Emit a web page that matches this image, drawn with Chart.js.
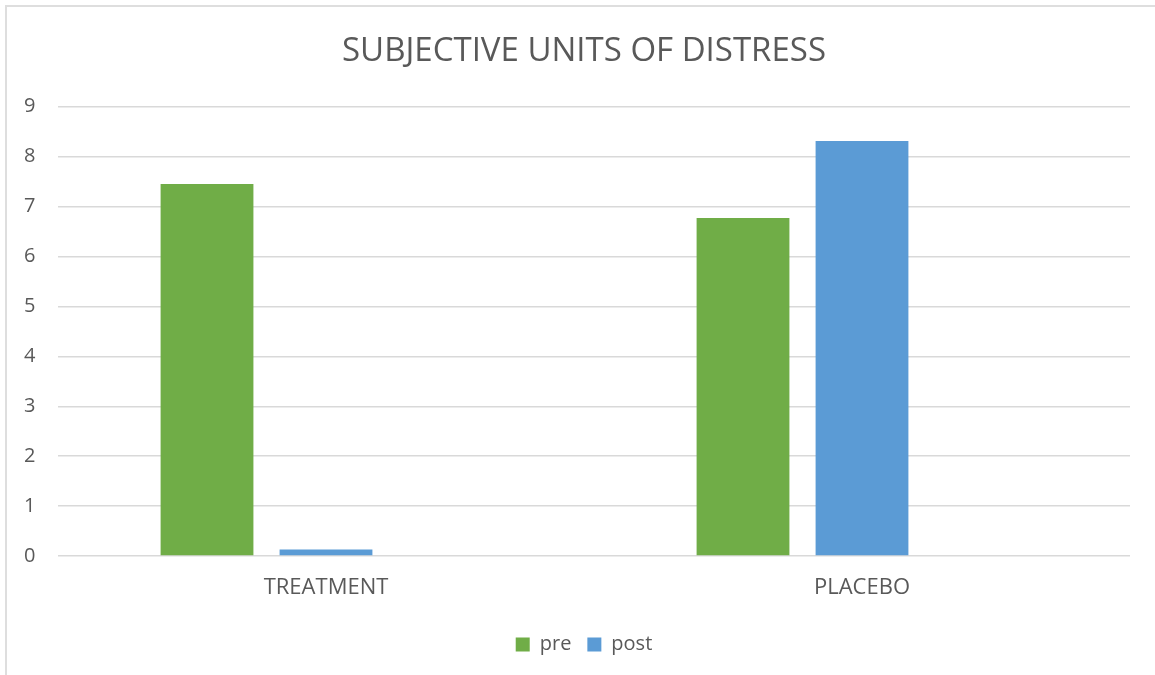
<!DOCTYPE html>
<html>
<head>
<meta charset="utf-8">
<script src="https://cdn.jsdelivr.net/npm/chart.js@4.4.1/dist/chart.umd.min.js"></script>
<style>
  html, body { margin: 0; padding: 0; background: #fff; overflow: hidden; }
  #frame { position: absolute; left: 5px; top: 5px; width: 1250px; height: 760px;
           border: 2px solid #dedede; box-sizing: border-box; }
  #wrap { position: absolute; left: 0; top: 0; width: 1155px; height: 675px; }
</style>
</head>
<body>
<div id="frame"></div>
<div id="wrap"><canvas id="chart" width="1155" height="675"></canvas></div>
<script>
// Subjective units of distress, before and after, per group
const categories = ['TREATMENT', 'PLACEBO'];
const preValues = [7.45, 6.77];
const postValues = [0.13, 8.31];
// the workbook chart keeps a third, empty series slot in each group
const emptyValues = [null, null];
const seriesNames = ['pre', 'post', ''];
const yMin = 0, yMax = 9, yStep = 1;

const TEXT = '#595959';
const GRID = '#d9d9d9';
const FONT = "'Open Sans', 'Liberation Sans', sans-serif";

new Chart(document.getElementById('chart'), {
  type: 'bar',
  data: {
    labels: categories,
    datasets: [
      { label: seriesNames[0], data: preValues, backgroundColor: '#70ad47' },
      { label: seriesNames[1], data: postValues, backgroundColor: '#5b9bd5' },
      { label: seriesNames[2], data: emptyValues, backgroundColor: 'rgba(0,0,0,0)' }
    ]
  },
  options: {
    responsive: false,
    devicePixelRatio: 1,
    animation: false,
    datasets: { bar: { categoryPercentage: 0.666, barPercentage: 0.78 } },
    layout: { padding: { left: 38, right: 25, top: 0, bottom: 10.5 } },
    plugins: {
      title: {
        display: true,
        text: 'SUBJECTIVE UNITS OF DISTRESS',
        color: TEXT,
        font: { family: FONT, size: 33, weight: 'normal' },
        padding: { top: 32, bottom: 35 }
      },
      legend: {
        position: 'bottom',
        labels: {
          color: TEXT,
          font: { family: FONT, size: 20 },
          boxWidth: 14,
          boxHeight: 14,
          padding: 16,
          filter: (item) => item.text !== ''
        }
      },
      tooltip: { enabled: false }
    },
    scales: {
      x: {
        grid: { display: false, drawTicks: false },
        border: { display: false },
        ticks: { color: TEXT, font: { family: FONT, size: 22 }, padding: 18 }
      },
      y: {
        min: yMin,
        max: yMax,
        grid: { color: GRID, lineWidth: 1.5, drawTicks: false },
        border: { display: false },
        // mirrored labels are not clipped to the narrow axis box; a negative
        // padding moves them back out to the left of the grid
        ticks: { stepSize: yStep, color: TEXT, font: { family: FONT, size: 20 },
                 mirror: true, padding: -34 },
        afterFit: (scale) => { scale.width = 20; }
      }
    }
  }
});
</script>
</body>
</html>
